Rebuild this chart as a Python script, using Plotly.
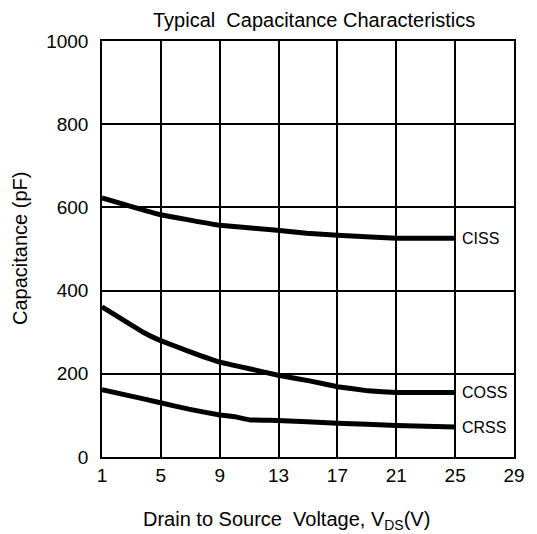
import plotly.graph_objects as go

# Drain-to-source voltage (V) and capacitance (pF) sample points for each curve
ciss_v = [1, 2.9, 4.9, 6.9, 9.0, 12.9, 14.9, 17.0, 19.6, 21, 25]
ciss_pf = [623, 603, 583, 570, 557, 545, 538, 533, 528, 526, 526]

coss_v = [1, 3.8, 4.9, 6.9, 9.0, 11.3, 12.9, 15.1, 17.0, 19.1, 21, 25]
coss_pf = [361, 300, 281, 254, 228, 210, 197, 183, 169, 159, 155, 155]

crss_v = [1, 2.9, 4.9, 6.9, 9.0, 10.0, 11.1, 12.9, 17.0, 21, 25]
crss_pf = [162, 147, 131, 115, 101, 97, 89, 88, 81, 76, 72]

x_ticks = [1, 5, 9, 13, 17, 21, 25, 29]
y_ticks = [0, 200, 400, 600, 800, 1000]

FONT = "Liberation Sans, Arial, sans-serif"

fig = go.Figure()
series = [("CISS", ciss_v, ciss_pf), ("COSS", coss_v, coss_pf), ("CRSS", crss_v, crss_pf)]
for name, xs, ys in series:
    fig.add_trace(go.Scatter(
        x=xs, y=ys, mode="lines", name=name,
        line=dict(color="black", width=5, shape="spline", smoothing=0.2),
        showlegend=False, hoverinfo="skip",
    ))
    # curve name at the right-hand end of each curve
    fig.add_annotation(
        x=xs[-1], y=ys[-1], text=name, showarrow=False,
        xanchor="left", yanchor="middle", xshift=5,
        font=dict(family=FONT, size=16, color="black"),
    )

# axis titles placed as annotations relative to the plot area
fig.add_annotation(
    text="Drain to Source  Voltage, V<sub>DS</sub>(V)",
    xref="paper", yref="paper", x=0.449, y=0, yshift=-63,
    xanchor="center", yanchor="middle", showarrow=False,
    font=dict(family=FONT, size=20, color="black"),
)
fig.add_annotation(
    text="Capacitance (pF)",
    xref="paper", yref="paper", x=0, y=0.5, xshift=-82,
    xanchor="center", yanchor="middle", textangle=-90, showarrow=False,
    font=dict(family=FONT, size=20, color="black"),
)

fig.update_layout(
    width=537, height=534,
    margin=dict(l=102, r=16, t=41, b=77),
    paper_bgcolor="white", plot_bgcolor="white",
    title=dict(
        text="Typical  Capacitance Characteristics",
        x=0.585, xanchor="center", y=0.9625, yanchor="middle",
        font=dict(family=FONT, size=20, color="black"),
    ),
    font=dict(family=FONT, color="black"),
)

fig.update_xaxes(
    range=[1, 29], tickvals=x_ticks, ticktext=[str(t) for t in x_ticks],
    showgrid=True, gridcolor="black", gridwidth=1.5,
    showline=True, linecolor="black", linewidth=1.5, mirror=True,
    zeroline=False, ticks="", tickfont=dict(family=FONT, size=19),
    ticklabelstandoff=0,
)
fig.update_yaxes(
    range=[0, 1000], tickvals=y_ticks, ticktext=[str(t) for t in y_ticks],
    showgrid=True, gridcolor="black", gridwidth=1.5,
    showline=True, linecolor="black", linewidth=1.5, mirror=True,
    zeroline=False, ticks="", tickfont=dict(family=FONT, size=19),
    ticklabelstandoff=8,
)

fig.write_html("out.html")
